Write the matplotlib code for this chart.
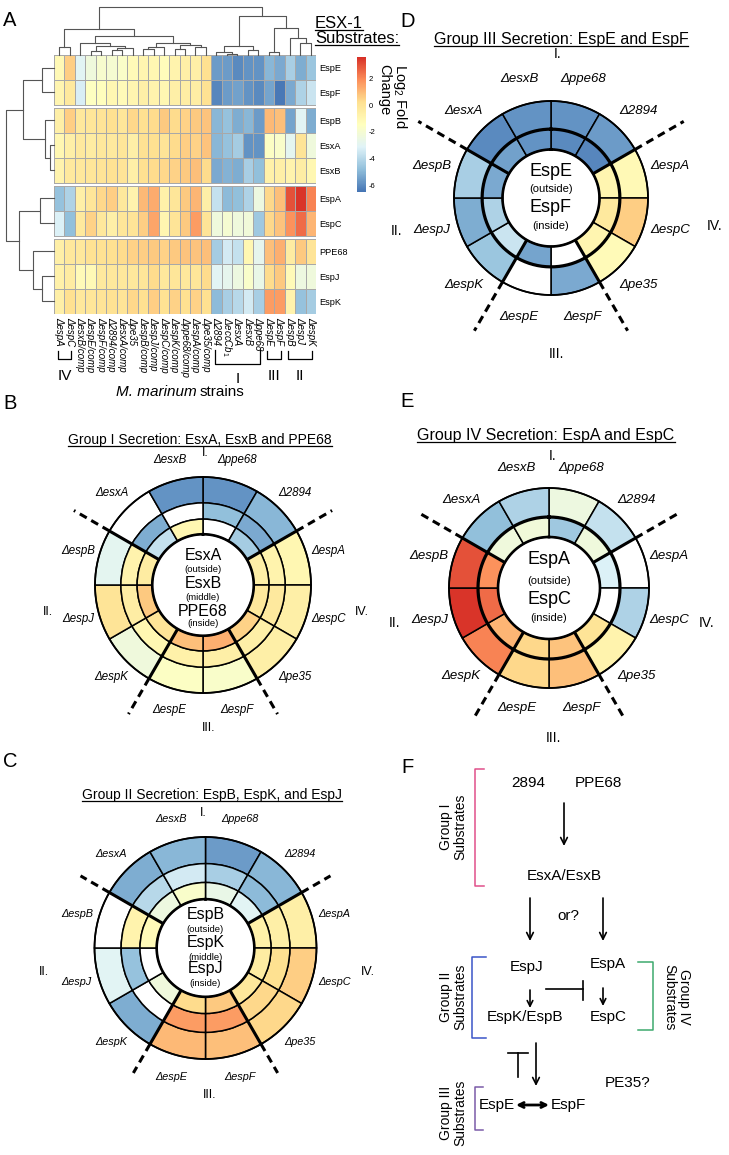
import numpy as np
import matplotlib
matplotlib.use('Agg')
import matplotlib.pyplot as plt
from matplotlib.colors import LinearSegmentedColormap, Normalize
from matplotlib.cm import ScalarMappable
from matplotlib.transforms import blended_transform_factory

plt.rcParams['font.family'] = ['Liberation Sans', 'DejaVu Sans']
plt.rcParams['mathtext.fontset'] = 'custom'
plt.rcParams['mathtext.rm'] = 'Liberation Sans'
plt.rcParams['mathtext.it'] = 'Liberation Sans:italic'

# ------------------------------------------------------------------ data
proteins = ['EspE', 'EspF', 'EspB', 'EsxA', 'EsxB', 'EspA', 'EspC', 'PPE68', 'EspJ', 'EspK']
strains = ['ΔespA', 'ΔespC', 'ΔesxB/comp', 'ΔespE/comp', 'ΔespF/comp', 'Δ2894/comp',
           'ΔesxA/comp', 'Δpe35', 'ΔespB/comp', 'ΔespJ/comp', 'ΔespC/comp', 'ΔespK/comp',
           'Δppe68/comp', 'ΔespA/comp', 'Δpe35/comp', 'Δ2894', 'ΔeccCb$_1$', 'ΔesxA',
           'ΔesxB', 'Δppe68', 'ΔespE', 'ΔespF', 'ΔespB', 'ΔespJ', 'ΔespK']

espE_lfc = [-1.1, 0.6, -3.0, -2.3, -1.9, -2.0, -1.7, -1.2, -0.9, -1.0, -1.3, -0.8, -0.6,
            -0.6, 0.2, -5.6, -5.6, -6.0, -5.8, -5.8, -5.0, -5.3, -4.3, -5.2, -4.6]
espF_lfc = [-0.9, -0.3, -3.3, -1.5, -1.4, -1.0, -1.2, -0.9, -0.6, -0.8, -1.0, -0.6, -0.5,
            -0.5, 0.1, -6.1, -5.6, -5.5, -5.8, -6.0, -5.4, -6.4, -5.3, -4.2, -3.6]
espB_lfc = [-0.6, 0.6, -0.2, -0.1, 0.0, 0.2, -0.1, 0.4, 0.2, 0.3, 0.7, 0.3, 0.5,
            0.7, 0.8, -5.0, -4.7, -5.2, -5.0, -5.6, 1.0, 0.9, -5.4, -3.0, -5.2]
esxA_lfc = [-1.0, -0.6, -0.3, -0.4, -0.2, -0.3, -0.1, -0.6, 0.1, 0.2, 0.0, 0.3, 0.6,
            0.5, 0.8, -5.0, -4.7, -4.4, -5.8, -5.8, -1.6, -1.8, -2.9, 0.0, -2.3]
esxB_lfc = [-0.8, -0.3, -0.2, -0.1, 0.0, 0.1, 0.0, -0.6, 0.2, 0.3, 0.4, 0.5, 0.7,
            0.9, 0.3, -5.3, -5.1, -5.2, -4.3, -4.8, -0.7, -0.6, -0.8, -0.5, -1.0]
espA_lfc = [-4.7, -4.2, -0.6, -0.1, 0.4, 0.6, -0.2, -0.8, 1.0, 1.3, -0.7, -0.1, 0.7,
            1.1, -0.6, -3.7, -4.9, -4.8, -4.2, -2.4, 0.4, 0.9, 3.0, 3.5, 2.1]
espC_lfc = [-3.2, -4.8, -0.3, 0.5, -0.2, -0.6, -0.1, 0.0, 0.6, 1.4, -0.9, 0.0, 0.7,
            1.6, 0.0, -2.3, -2.0, -2.3, -2.2, -4.5, 0.4, 0.8, 1.8, 2.5, 1.1]
ppe68_lfc = [-0.6, -0.2, -0.2, 0.1, 0.1, 0.2, 0.3, 0.5, 0.6, 0.7, 0.5, 0.7, 0.8,
             0.8, 0.9, -4.4, -3.4, -3.7, -1.0, -2.8, 0.9, 1.2, -0.4, 0.7, 0.0]
espJ_lfc = [-0.7, -0.4, -1.2, -1.1, -0.3, -0.2, -0.2, -0.2, -0.1, 0.3, -0.2, -0.1, -0.2,
            -0.1, 0.3, -3.0, -2.8, -2.4, -1.8, -2.6, 0.3, 0.7, -1.2, -2.4, -2.3]
espK_lfc = [-0.6, 0.2, -0.2, -0.1, 0.0, 0.1, 0.0, 0.4, 0.2, 0.6, 0.1, 0.5, 0.2,
            0.5, 0.2, -4.9, -4.3, -4.0, -3.4, -4.3, 1.6, 1.6, -0.8, -4.7, -4.4]

lfc = np.array([espE_lfc, espF_lfc, espB_lfc, esxA_lfc, esxB_lfc,
                espA_lfc, espC_lfc, ppe68_lfc, espJ_lfc, espK_lfc])

# dendrograms: (left, right, height) ; leaves are column / row indices
col_tree = ((((0, 1, 0.17),
              ((2, ((3, 4, 0.08), ((5, 6, 0.10), 7, 0.14), 0.18), 0.25),
               (((8, 9, 0.12), 10, 0.16), ((11, 12, 0.12), (13, 14, 0.17), 0.20), 0.26), 0.40),
              0.54),
             (((15, (16, 17, 0.03), 0.06), (18, 19, 0.10), 0.19),
              ((20, 21, 0.07), (22, (23, 24, 0.24), 0.35), 0.56), 0.82), 1.0))
row_tree = (((0, 1, 0.24), (2, (3, 4, 0.085), 0.19), 0.65),
            ((5, 6, 0.30), (7, (8, 9, 0.26), 0.44), 0.72), 1.0)
row_groups = [[0, 1], [2, 3, 4], [5, 6], [7, 8, 9]]
cbar_ticks = [2, 0, -2, -4, -6]

ring_mutants = ['ppe68', '2894', 'espA', 'espC', 'pe35', 'espF', 'espE', 'espK', 'espJ',
                'espB', 'esxA', 'esxB']
group_bounds_deg = [60, 150, 210, 300]

# ------------------------------------------------------------------ figure
W, H = 729, 1155
fig = plt.figure(figsize=(W / 100, H / 100), dpi=100)


def px_axes(x0, y0, w, h, **kw):
    return fig.add_axes([x0 / W, 1 - (y0 + h) / H, w / W, h / H], **kw)


ax_o = fig.add_axes([0, 0, 1, 1])
ax_o.set_xlim(0, W)
ax_o.set_ylim(H, 0)
ax_o.axis('off')

cmap = LinearSegmentedColormap.from_list(
    'rdylbu7', ['#4575B4', '#91BFDB', '#E0F3F8', '#FFFFBF', '#FEE090', '#FC8D59', '#D73027'])
norm = Normalize(vmin=-6.5, vmax=3.6)

# ------------------------------------------------------------------ heatmap
gap = 0.12
row_top = np.zeros(len(proteins))
yy = 0.0
for g in row_groups:
    for r in g:
        row_top[r] = yy
        yy += 1
    yy += gap
total_h = yy - gap
row_center = row_top + 0.5

ax_hm = px_axes(54, 55, 262, 259)
for g in row_groups:
    Y = row_top[g[0]] + np.arange(len(g) + 1)
    X = np.arange(len(strains) + 1)
    ax_hm.pcolormesh(X, Y, lfc[g], cmap=cmap, norm=norm, edgecolor='#a8a8a8', linewidth=0.7)
ax_hm.set_xlim(0, len(strains))
ax_hm.set_ylim(total_h, 0)
ax_hm.set_xticks(np.arange(len(strains)) + 0.5)
ax_hm.set_xticklabels(strains, rotation=-90, fontsize=7, fontstyle='italic')
ax_hm.yaxis.tick_right()
ax_hm.set_yticks(row_center)
ax_hm.set_yticklabels(proteins, fontsize=6.6)
ax_hm.tick_params(length=0, pad=2)
for s in ax_hm.spines.values():
    s.set_visible(False)


def draw_tree(ax, node, pos, orient):
    if isinstance(node, int):
        return pos[node], 0.0
    l, r, h = node
    pl, hl = draw_tree(ax, l, pos, orient)
    pr, hr = draw_tree(ax, r, pos, orient)
    if orient == 'top':
        ax.plot([pl, pl, pr, pr], [hl, h, h, hr], color='#555555', lw=0.8, clip_on=False)
    else:
        ax.plot([hl, h, h, hr], [pl, pl, pr, pr], color='#555555', lw=0.8, clip_on=False)
    return (pl + pr) / 2, h


ax_cd = px_axes(54, 5, 262, 50)
draw_tree(ax_cd, col_tree, np.arange(len(strains)) + 0.5, 'top')
ax_cd.set_xlim(0, len(strains))
ax_cd.set_ylim(0, 1.04)
ax_cd.axis('off')

ax_rd = px_axes(4, 55, 50, 259)
draw_tree(ax_rd, row_tree, row_center, 'left')
ax_rd.set_xlim(1.04, 0)
ax_rd.set_ylim(total_h, 0)
ax_rd.axis('off')

# colorbar
cax = px_axes(357, 57, 9, 135)
cb = fig.colorbar(ScalarMappable(norm=norm, cmap=cmap), cax=cax, ticks=cbar_ticks)
cb.set_ticklabels([str(t) for t in cbar_ticks])
cb.outline.set_visible(False)
cax.tick_params(labelsize=5.5, length=0, pad=2)
ax_o.text(393, 64, 'Log$_2$ Fold\nChange', rotation=-90, fontsize=10.5, ha='center',
          va='top', multialignment='left', linespacing=1.0)

# brackets under the heatmap
trans = blended_transform_factory(ax_hm.transData, ax_o.transData)
for lab, c0, c1, ytop, ybot, ylab in [('IV', 0, 1, 351, 359, 376), ('I', 15, 19, 350, 364, 379),
                                       ('III', 20, 21, 351, 359, 376), ('II', 22, 24, 351, 359, 376)]:
    xa, xb = c0 + 0.35, c1 + 0.65
    ax_o.plot([xa, xa, xb, xb], [ytop, ybot, ybot, ytop], color='black', lw=0.9,
              transform=trans, clip_on=False)
    ax_o.text((xa + xb) / 2, ylab, lab, transform=trans, ha='center', va='center', fontsize=11)
ax_o.text(197, 392, 'M. marinum', fontstyle='italic', fontsize=11, ha='right', va='center')
ax_o.text(200, 392, 'strains', fontsize=11, ha='left', va='center')

underline_list = []
t1 = ax_o.text(315, 28, 'ESX-1', fontsize=12, ha='left', va='baseline')
t2 = ax_o.text(315, 43, 'Substrates:', fontsize=12, ha='left', va='baseline')
underline_list += [t1, t2]

# panel letters
for lab, x, y in [('A', 3, 11), ('B', 3, 394), ('C', 3, 752), ('D', 400, 12),
                  ('E', 400, 392), ('F', 401, 758)]:
    ax_o.text(x, y, lab, fontsize=14.5, ha='left', va='top')


# ------------------------------------------------------------------ ring charts
def ring_chart(cx, cy, R, rings, sides, bounds, lab_r, lab_fs, dash_r, numerals, num_fs,
               center_dy, big_fs, small_fs, bold_ring, title, title_xy, title_fs):
    rm = 1.75
    ax = px_axes(cx - rm * R, cy - rm * R, 2 * rm * R, 2 * rm * R, projection='polar')
    ax.set_theta_zero_location('N')
    ax.set_theta_direction(-1)
    ax.set_ylim(0, rm)
    ax.set_axis_off()
    theta = np.deg2rad(np.arange(12) * 30 + 15)
    width = np.deg2rad(30)
    for k, prot in enumerate(rings):
        row = lfc[proteins.index(prot)]
        cols = []
        for m in ring_mutants:
            if m.lower() == prot.lower():
                cols.append('white')
            else:
                cols.append(cmap(norm(row[strains.index('Δ' + m)])))
        ax.bar(theta, bounds[k] - bounds[k + 1], width=width, bottom=bounds[k + 1],
               color=cols, edgecolor='black', linewidth=1.1)
    th = np.linspace(0, 2 * np.pi, 400)
    ax.plot(th, np.full_like(th, bounds[-1]), color='black', lw=1.9)
    ax.plot(th, np.full_like(th, 1.0), color='black', lw=1.3)
    if bold_ring:
        for b in bounds[1:-1]:
            ax.plot(th, np.full_like(th, b), color='black', lw=2.3)
    for gb in group_bounds_deg:
        t = np.deg2rad(gb)
        ax.plot([t, t], [bounds[-1], 1.0], color='black', lw=2.2, solid_capstyle='butt')
        ax.plot([t, t], [1.0, dash_r], color='black', lw=2.2, dashes=(2.6, 1.7))
    for i, m in enumerate(ring_mutants):
        ax.text(theta[i], lab_r, 'Δ' + m, fontstyle='italic', fontsize=lab_fs,
                ha='center', va='center')
    for txt, (dx, dy) in numerals.items():
        ax.text(0.5 + dx / (2 * rm), 0.5 + dy / (2 * rm), txt, transform=ax.transAxes,
                fontsize=num_fs, ha='center', va='center')
    k = 0
    for prot, side in zip(rings, sides):
        ax_o.text(cx, cy + center_dy[k], prot, fontsize=big_fs, ha='center', va='center')
        ax_o.text(cx, cy + center_dy[k + 1], '(' + side + ')', fontsize=small_fs,
                  ha='center', va='center')
        k += 2
    tt = ax_o.text(title_xy[0], title_xy[1], title, fontsize=title_fs, ha='center',
                   va='baseline')
    underline_list.append(tt)


# B
ring_chart(203, 585, 108, ['EsxA', 'EsxB', 'PPE68'], ['outside', 'middle', 'inside'],
           [1.0, 0.76, 0.61, 0.47], 1.2, 8.3, 1.38,
           {'I.': (0.02, 1.22), 'II.': (-1.44, -0.25), 'IV.': (1.47, -0.25), 'III.': (0.05, -1.32)},
           9, [-29, -16, -2, 12, 26, 38], 11.5, 6.8, False,
           'Group I Secretion: EsxA, EsxB and PPE68', (200, 444), 10)
# C
ring_chart(205.5, 948, 111, ['EspB', 'EspK', 'EspJ'], ['outside', 'middle', 'inside'],
           [1.0, 0.76, 0.59, 0.44], 1.2, 7.8, 1.3,
           {'I.': (-0.02, 1.22), 'II.': (-1.46, -0.22), 'IV.': (1.46, -0.22), 'III.': (0.04, -1.32)},
           9, [-33, -19, -6, 9, 21, 36], 11.5, 6.8, False,
           'Group II Secretion: EspB, EspK, and EspJ', (212, 799), 10)
# D
ring_chart(551, 198, 97, ['EspE', 'EspF'], ['outside', 'inside'],
           [1.0, 0.71, 0.5], 1.27, 9.5, 1.58,
           {'I.': (0.07, 1.48), 'II.': (-1.59, -0.34), 'IV.': (1.69, -0.29), 'III.': (0.06, -1.61)},
           10, [-27, -9, 10, 28], 13, 8, True,
           'Group III Secretion: EspE and EspF', (561, 44), 11.5)
# E
ring_chart(549, 588, 100, ['EspA', 'EspC'], ['outside', 'inside'],
           [1.0, 0.71, 0.51], 1.24, 9.5, 1.52,
           {'I.': (0.04, 1.32), 'II.': (-1.54, -0.35), 'IV.': (1.58, -0.35), 'III.': (0.04, -1.5)},
           10, [-28, -7, 12, 30], 13, 8, True,
           'Group IV Secretion: EspA and EspC', (546, 440), 11.5)

# ------------------------------------------------------------------ panel F
fF = 11
for txt, x, y in [('2894', 528, 783), ('PPE68', 598, 783), ('EsxA/EsxB', 564, 876),
                  ('or?', 568, 916), ('EspJ', 527, 967), ('EspA', 608, 964),
                  ('EspK/EspB', 525, 1017), ('EspC', 608, 1017), ('PE35?', 628, 1083),
                  ('EspE', 497, 1105), ('EspF', 568, 1105)]:
    ax_o.text(x, y, txt, fontsize=fF, ha='center', va='center')


def arrow(x0, y0, x1, y1, style='->', lw=1.2, ms=12):
    ax_o.annotate('', xy=(x1, y1), xytext=(x0, y0),
                  arrowprops=dict(arrowstyle=style, lw=lw, color='black', mutation_scale=ms,
                                  shrinkA=0, shrinkB=0))


arrow(564, 803, 564, 846)
arrow(530, 898, 530, 941)
arrow(603, 898, 603, 941)
arrow(530, 990, 530, 1008, ms=10)
arrow(603, 988, 603, 1006, ms=10)
arrow(536, 1043, 536, 1086)
arrow(516, 1105, 549, 1105, style='<->', lw=2.0, ms=9)
ax_o.plot([546, 583], [989, 989], color='black', lw=1.2)
ax_o.plot([583, 583], [981, 1000], color='black', lw=1.2)
ax_o.plot([518, 518], [1077, 1053], color='black', lw=1.2)
ax_o.plot([508, 528], [1053, 1053], color='black', lw=1.2)


def bracket(x, y0, y1, serif, color):
    ax_o.plot([x + serif, x, x, x + serif], [y0, y0, y1, y1], color=color, lw=1.1)


bracket(475, 769, 886, 9, '#E0508A')
bracket(472, 957, 1038, 14, '#3A55C8')
bracket(653, 962, 1030, -15, '#3DAA6E')
bracket(475, 1087, 1130, 8, '#7A5BA8')
for txt, x, y, rot in [('Group I\nSubstrates', 453, 827, 90), ('Group II\nSubstrates', 453, 997, 90),
                       ('Group IV\nSubstrates', 677, 997, -90),
                       ('Group III\nSubstrates', 453, 1113, 90)]:
    ax_o.text(x, y, txt, rotation=rot, fontsize=10, ha='center', va='center',
              multialignment='center', linespacing=1.05)

# ------------------------------------------------------------------ underlines
fig.canvas.draw()
for t in underline_list:
    bb = t.get_window_extent()
    yline = H - bb.y0 - 1.5
    ax_o.plot([bb.x0, bb.x1], [yline, yline], color='black', lw=0.9)

fig.savefig('out.png', dpi=100)
